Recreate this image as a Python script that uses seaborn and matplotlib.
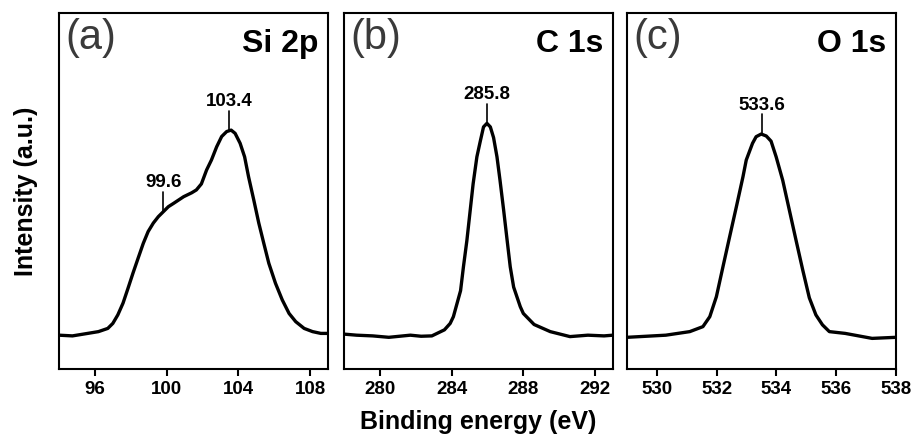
import numpy as np
import pandas as pd
import matplotlib
matplotlib.use("Agg")
import matplotlib.pyplot as plt
import seaborn as sns

# Si 2p spectrum (normalised intensity)
si_energy = [94.0, 94.75, 95.6, 96.2, 96.72, 97.0, 97.28, 97.57, 97.85, 98.13,
             98.41, 98.7, 98.97, 99.26, 99.54, 99.82, 100.1, 100.38, 100.95,
             101.4, 101.66, 101.94, 102.23, 102.5, 102.79, 103.07, 103.35,
             103.6, 103.82, 104.1, 104.35, 104.57, 104.86, 105.14, 105.42,
             105.7, 106.07, 106.45, 106.83, 107.2, 107.67, 108.14, 108.6, 109.0]
si_counts = [0.095, 0.093, 0.1, 0.105, 0.114, 0.128, 0.152, 0.185, 0.227, 0.27,
             0.311, 0.353, 0.386, 0.41, 0.428, 0.442, 0.456, 0.465, 0.484,
             0.495, 0.503, 0.52, 0.559, 0.587, 0.624, 0.653, 0.667,
             0.671, 0.662, 0.634, 0.596, 0.54, 0.475, 0.41, 0.353,
             0.297, 0.241, 0.194, 0.156, 0.133, 0.114, 0.105, 0.1, 0.1]

# C 1s spectrum
c_energy = [278.0, 278.7, 279.6, 280.5, 281.7, 282.3, 282.9, 283.6, 283.92,
            284.1, 284.5, 284.66, 284.85, 285.04, 285.2, 285.41, 285.6, 285.78,
            285.97, 286.16, 286.34, 286.53, 286.7, 286.9, 287.1, 287.27, 287.46,
            287.83, 288.0, 288.6, 289.5, 290.6, 291.6, 292.5, 293.0]
c_counts = [0.098, 0.095, 0.093, 0.089, 0.095, 0.092, 0.093, 0.11, 0.128,
            0.147, 0.22, 0.287, 0.36, 0.447, 0.52, 0.596, 0.64, 0.68,
            0.69, 0.68, 0.65, 0.596, 0.53, 0.447, 0.36, 0.287, 0.23,
            0.175, 0.156, 0.125, 0.105, 0.091, 0.095, 0.093, 0.095]

# O 1s spectrum
o_energy = [529.0, 530.3, 531.1, 531.54, 531.77, 531.99, 532.21, 532.43, 532.66,
            532.88, 532.99, 533.2, 533.32, 533.49, 533.66, 533.82, 533.99,
            534.21, 534.43, 534.66, 534.88, 535.1, 535.32, 535.54, 535.77,
            536.3, 537.2, 538.0]
o_counts = [0.089, 0.095, 0.105, 0.119, 0.147, 0.203, 0.287, 0.37, 0.456,
            0.54, 0.587, 0.634, 0.6525, 0.66, 0.6545, 0.64, 0.596,
            0.53, 0.447, 0.36, 0.278, 0.2, 0.152, 0.124, 0.105,
            0.1, 0.086, 0.089]

panel_tags = ["(a)", "(b)", "(c)"]
panel_names = ["Si 2p", "C 1s", "O 1s"]
xlims = [(94, 109), (278, 293), (529, 538)]
xticks = [[96, 100, 104, 108], [280, 284, 288, 292], [530, 532, 534, 536, 538]]

# peak markers: position of marker line, height of curve there, label
peak_pos = [[99.82, 103.5], [285.97], [533.52]]
peak_height = [[0.442, 0.671], [0.69], [0.66]]
peak_text = [["99.6", "103.4"], ["285.8"], ["533.6"]]

sns.set_style("ticks")
plt.rcParams["font.family"] = ["Liberation Sans", "DejaVu Sans"]
plt.rcParams["text.color"] = "black"
plt.rcParams["axes.labelcolor"] = "black"
plt.rcParams["xtick.color"] = "black"

fig = plt.figure(figsize=(9.15, 4.34), dpi=100)
lefts = [59 / 915, 344 / 915, 627 / 915]
bottom = 65 / 434
height = 356 / 434
width = 269 / 915

spectra = [(si_energy, si_counts), (c_energy, c_counts), (o_energy, o_counts)]

for i, (xs, ys) in enumerate(spectra):
    ax = fig.add_axes([lefts[i], bottom, width, height])
    df = pd.DataFrame({"energy": xs, "counts": ys})
    sns.lineplot(data=df, x="energy", y="counts", ax=ax, color="black",
                 linewidth=2.4, sort=False, solid_joinstyle="round")
    ax.set_xlim(*xlims[i])
    ax.set_ylim(0, 1)
    ax.set_xticks(xticks[i])
    ax.set_yticks([])
    ax.set_xlabel("")
    ax.set_ylabel("")
    for s in ax.spines.values():
        s.set_visible(True)
        s.set_linewidth(1.5)
        s.set_color("black")
    ax.tick_params(axis="x", direction="out", length=5, width=1.5,
                   labelsize=13.5, pad=4, colors="black")
    for lab in ax.get_xticklabels():
        lab.set_fontweight("bold")

    ax.text(0.022, 0.985, panel_tags[i], transform=ax.transAxes, ha="left",
            va="top", fontsize=30, color="#3a3a3a")
    ax.text(0.965, 0.955, panel_names[i], transform=ax.transAxes, ha="right",
            va="top", fontsize=23, fontweight="bold")

    for px, ph, pt in zip(peak_pos[i], peak_height[i], peak_text[i]):
        top = ph + 0.055
        ax.plot([px, px], [ph, top], color="black", linewidth=1.2)
        ax.text(px, top + 0.002, pt, ha="center", va="bottom", fontsize=13.5,
                fontweight="bold")

    if i == 0:
        ax.set_ylabel("Intensity (a.u.)", fontsize=18, fontweight="bold",
                      labelpad=15)
    if i == 1:
        ax.set_xlabel("Binding energy (eV)", fontsize=18, fontweight="bold",
                      labelpad=8)

fig.savefig("out.png", dpi=100)
